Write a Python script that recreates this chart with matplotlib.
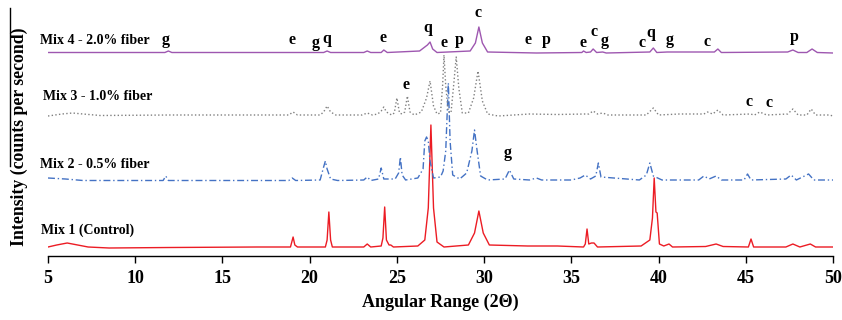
import numpy as np
import matplotlib
matplotlib.use('Agg')
import matplotlib.pyplot as plt
from matplotlib.lines import Line2D

# -- traces: (2theta, intensity above each trace's own baseline)
mix1 = [(5.0, 1), (5.5, 3), (6.1, 5), (6.7, 3), (7.3, 1), (8.5, 0), (12.0, 0.5), (17.0, 1),
        (18.9, 1), (19.05, 11), (19.15, 3), (19.3, 1), (20.9, 1), (21.0, 8), (21.1, 36), (21.2, 8),
        (21.3, 1), (23.1, 1), (23.3, 4), (23.5, 1), (24.1, 2), (24.2, 10), (24.3, 41), (24.4, 8),
        (24.55, 3), (24.65, 3), (24.8, 1), (26.2, 2), (26.6, 8), (26.8, 40), (26.95, 123), (27.1, 40),
        (27.3, 6), (27.7, 1), (29.1, 3), (29.45, 15), (29.7, 37), (29.95, 15), (30.3, 3), (32.5, 2),
        (34.2, 2), (35.7, 1), (35.8, 4), (35.9, 19), (36.0, 4), (36.15, 5), (36.3, 5), (36.5, 1),
        (39.0, 2), (39.5, 8), (39.65, 30), (39.75, 70), (39.85, 36), (39.92, 35), (40.05, 4), (40.3, 2),
        (40.6, 4), (40.8, 1), (42.7, 1.5), (43.3, 4), (43.7, 1.5), (45.15, 1), (45.3, 9), (45.45, 1),
        (47.3, 1), (47.7, 4), (48.1, 1), (48.7, 4), (49.0, 1), (50.0, 1)]

mix2 = [(5.0, 3), (6.0, 2), (7.0, 0.5), (11.6, 0.5), (11.75, 5), (11.9, 0.5), (17.0, 0.5), (18.8, 0.5),
        (19.0, 3), (19.2, 0.5), (20.6, 1), (20.8, 14), (20.9, 20), (21.0, 12), (21.2, 2), (21.6, 0.5),
        (23.1, 1), (23.3, 4), (23.5, 0.5), (23.95, 2), (24.1, 13), (24.25, 2), (24.9, 2), (25.1, 8),
        (25.2, 24), (25.3, 6), (25.5, 1), (26.2, 3), (26.5, 12), (26.6, 40), (26.7, 44), (26.8, 40),
        (26.9, 20), (27.1, 3), (27.5, 4), (27.65, 10), (27.8, 30), (27.95, 98), (28.05, 40), (28.2, 6),
        (28.6, 2), (29.0, 8), (29.3, 30), (29.45, 51), (29.6, 30), (29.8, 5), (30.2, 1), (31.2, 2),
        (31.45, 11), (31.7, 2), (32.6, 1), (33.0, 3), (33.3, 1), (35.0, 1), (35.5, 3), (35.8, 6),
        (36.1, 2), (36.4, 5), (36.55, 18), (36.7, 4), (38.9, 1), (39.3, 6), (39.5, 18), (39.7, 5),
        (40.2, 1), (42.3, 1), (42.6, 5), (42.9, 2), (43.3, 5), (43.6, 1), (44.9, 1), (45.1, 7),
        (45.3, 1), (47.3, 2), (47.6, 6), (47.9, 1), (48.6, 7), (48.9, 1), (50.0, 1)]

mix3 = [(5.0, 0), (5.8, 2), (6.4, 3), (7.0, 2), (8.0, 0.5), (12.0, 1), (16.0, 1), (18.8, 1),
        (19.05, 4), (19.3, 1), (20.6, 1), (20.8, 4), (21.0, 10), (21.2, 4), (21.5, 1), (23.0, 1),
        (23.3, 3), (23.6, 1), (23.9, 2), (24.1, 5), (24.25, 9), (24.4, 4), (24.7, 1), (24.85, 3),
        (25.0, 18), (25.15, 3), (25.3, 2), (25.45, 4), (25.6, 20), (25.75, 4), (26.0, 1), (26.4, 4),
        (26.7, 18), (26.9, 35), (27.1, 10), (27.3, 2), (27.5, 3), (27.62, 30), (27.7, 61), (27.8, 30),
        (27.95, 4), (28.1, 3), (28.25, 30), (28.4, 59), (28.55, 28), (28.75, 3), (29.1, 3), (29.4, 18),
        (29.65, 45), (29.9, 15), (30.2, 2), (30.8, 0), (32.6, 2), (34.2, 1.5), (35.8, 2), (36.0, 2),
        (36.25, 5), (36.5, 2), (36.8, 3), (37.1, 1), (39.3, 1), (39.7, 8), (40.0, 1), (41.2, 2),
        (42.6, 2), (42.8, 4), (43.1, 2), (43.4, 6), (43.7, 1), (45.25, 2), (45.5, 1), (45.8, 4),
        (46.2, 1), (47.4, 2), (47.7, 7), (48.0, 1), (48.5, 1), (48.75, 7), (49.0, 1), (49.8, 1),
        (50.0, 0)]

mix4 = [(5.0, 0.5), (8.0, 0.5), (11.7, 0.5), (11.9, 2), (12.1, 0.5), (18.0, 0.5), (20.8, 0.5),
        (21.0, 2), (21.2, 0.5), (23.1, 0.5), (23.3, 2), (23.5, 0.5), (24.1, 0.5), (24.25, 3),
        (24.45, 0.5), (26.3, 2), (26.6, 6), (26.75, 8), (26.9, 11), (27.05, 4), (27.3, 0.5),
        (29.2, 2), (29.5, 10), (29.7, 26), (29.9, 10), (30.2, 1), (33.0, 0), (35.6, 0.5), (35.7, 2),
        (35.85, 0.5), (36.1, 1), (36.25, 4), (36.45, 0.5), (36.8, 1), (37.0, 0), (39.5, 1), (39.7, 5),
        (39.9, 0.5), (40.5, 1), (42.9, 1), (43.2, 1), (43.4, 4), (43.6, 0.5), (47.4, 1), (47.7, 3),
        (48.0, 0.5), (48.5, 0.5), (48.8, 4), (49.1, 0.5), (50.0, 0)]

series_names = ['Mix 1 (Control)', 'Mix 2 - 0.5% fiber', 'Mix 3 - 1.0% fiber', 'Mix 4 - 2.0% fiber']

# -- phase letters: (2theta, height on the plot, letter)
phase_marks = [(11.76, 216, 'g'), (18.99, 216, 'e'), (20.36, 213, 'g'), (21.0, 217, 'q'),
               (24.2, 218, 'e'), (26.78, 228, 'q'), (27.7, 213, 'e'), (28.56, 216, 'p'),
               (29.65, 243, 'c'), (32.52, 216, 'e'), (33.55, 216, 'p'), (35.67, 213, 'e'),
               (36.3, 224, 'c'), (36.93, 215, 'g'), (39.05, 213, 'c'), (39.57, 223, 'q'),
               (40.66, 216, 'g'), (42.78, 214, 'c'), (47.77, 219, 'p'),
               (25.52, 171, 'e'), (45.19, 154, 'c'), (46.33, 153, 'c'),
               (31.37, 103, 'g')]

offsets = [8, 75, 140, 203]
colors = ['#ec1c24', '#4472c4', '#808080', '#9e57b0']
styles = ['-', (0, (5, 2, 1, 2)), ':', '-']
label_pos = [(4.6, 26), (4.54, 92), (4.71, 160), (4.54, 216)]

serif = ['Liberation Serif', 'DejaVu Serif']
plt.rcParams['font.family'] = serif
plt.rcParams['font.weight'] = 'bold'

fig = plt.figure(figsize=(8.42, 3.2), dpi=100)
ax = fig.add_axes([48 / 842, 0.2, (833 - 48) / 842, 0.8])

for data, off, c, ls, name, (lx, ly) in zip([mix1, mix2, mix3, mix4], offsets, colors,
                                              styles, series_names, label_pos):
    x, y = np.array(data).T
    ax.plot(x, y + off, color=c, ls=ls, lw=1.0)
    ax.text(lx, ly, name, fontsize=10, fontweight='bold', ha='left', va='center', clip_on=False)

for x, y, s in phase_marks:
    ax.text(x, y, s, fontsize=11.5, fontweight='bold', ha='center', va='center')

ax.set_xlim(5, 50)
ax.set_ylim(0, 256)
ax.set_xticks(np.arange(5, 51, 5))
ax.set_yticks([])
for side in ['left', 'top', 'right']:
    ax.spines[side].set_visible(False)
ax.spines['bottom'].set_linewidth(1.0)
ax.tick_params(axis='x', direction='out', length=5, width=1, labelsize=13, pad=5)
for t in ax.get_xticklabels():
    t.set_fontweight('bold')
ax.set_xlabel('Angular Range (2Θ)', fontsize=13, fontweight='bold', labelpad=5)

fig.text(0.0235, 1 - 137 / 320, 'Intensity (counts per second)', rotation=90, fontsize=12.8,
         fontweight='bold', ha='center', va='center')
fig.add_artist(Line2D([10 / 842, 10 / 842], [1 - 8 / 320, 1 - 166 / 320], color='black', lw=1))

fig.savefig('out.png', dpi=100)
